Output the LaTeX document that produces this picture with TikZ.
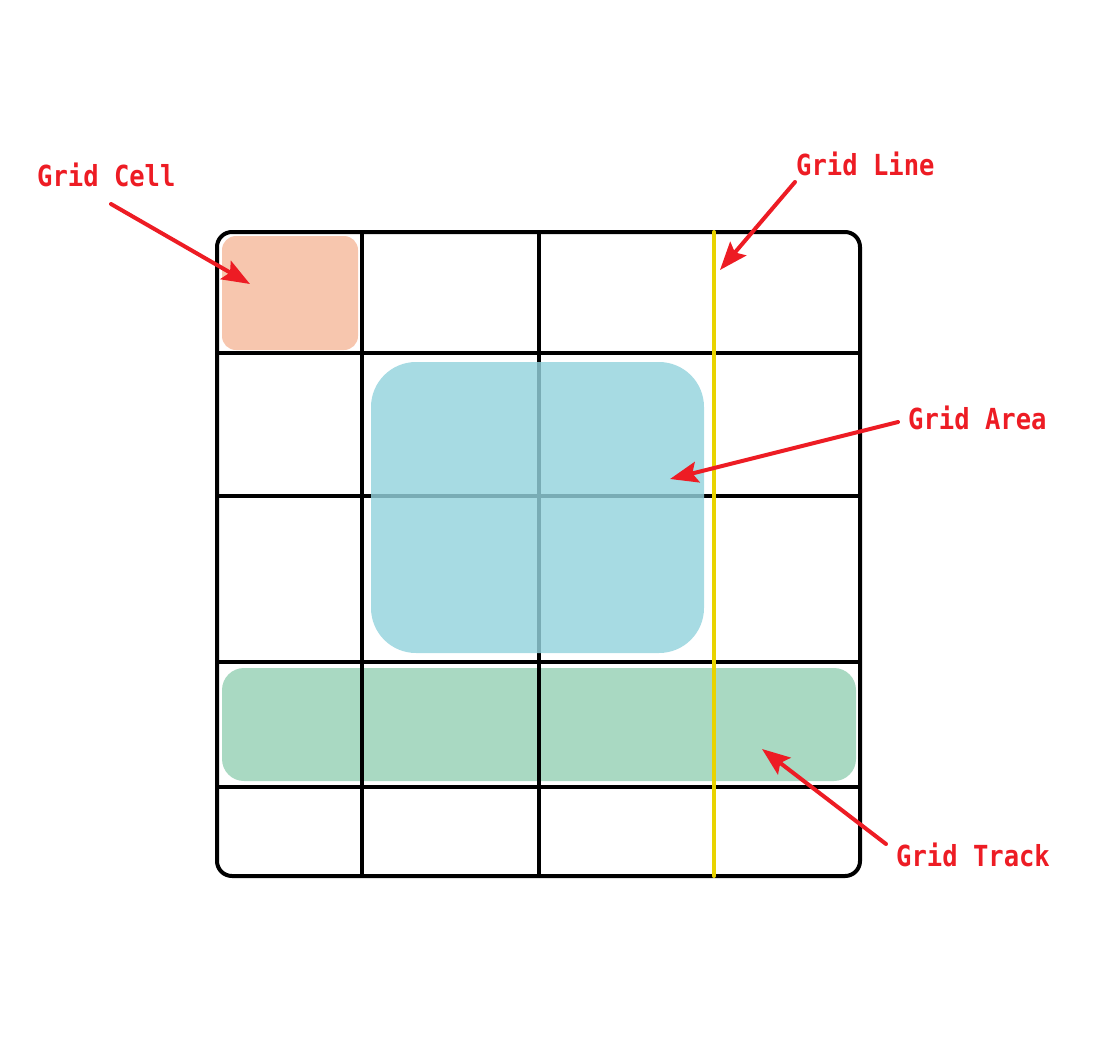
\documentclass[tikz,border=0pt]{standalone}
\usepackage{fontspec}
\usetikzlibrary{arrows.meta}
\newfontfamily\labelfont{DejaVu Sans Mono}[FakeStretch=0.88]
\definecolor{cellpink}{RGB}{247,198,174}
\definecolor{areablue}{RGB}{148,211,221}
\definecolor{trackgreen}{RGB}{169,217,194}
\definecolor{lineyellow}{RGB}{232,211,0}
\definecolor{pointred}{RGB}{237,28,36}
\tikzset{
	gridline/.style={line width=4pt,black},
	tag/.style={inner sep=0pt,anchor=west,text=pointred,font=\labelfont\bfseries\fontsize{29}{29}\selectfont},
	pointer/.style={pointred,line width=4pt,-{Stealth[length=28pt,width=21pt,inset=5pt]}}
}
\begin{document}
\begin{tikzpicture}[x=1pt,y=-1pt,line cap=round,line join=round]
	\useasboundingbox (0,0) rectangle (1099,1060);
	% filled regions under the grid
	\fill[trackgreen,rounded corners=22pt] (222,668) rectangle (856,781);
	\fill[cellpink,rounded corners=14pt] (222,236) rectangle (358,350);
	% grid
	\foreach \x in {362,539}
		\draw[gridline,line cap=butt] (\x,232) -- (\x,876);
	\foreach \y in {353,496,662,787}
		\draw[gridline,line cap=butt] (217,\y) -- (860,\y);
	\draw[gridline,rounded corners=15pt] (217,232) rectangle (860,876);
	\draw[lineyellow,line width=4pt] (714,232) -- (714,876);
	\fill[areablue,fill opacity=0.82,rounded corners=45pt] (371,362) rectangle (704,653);
	% labels
	\node[tag] (cell) at (37,175) {Grid Cell};
	\node[tag] (line) at (796,164) {Grid Line};
	\node[tag] (area) at (908,418) {Grid Area};
	\node[tag] (track) at (896,855) {Grid Track};
	\coordinate (cellfrom) at (111,204);
	\coordinate (cellto) at (250,284);
	\coordinate (linefrom) at (795,182);
	\coordinate (lineto) at (720,270);
	\coordinate (areafrom) at (898,422);
	\coordinate (areato) at (670,479);
	\coordinate (trackfrom) at (886,844);
	\coordinate (trackto) at (762,749);
	\draw[pointer] (cellfrom) -- (cellto);
	\draw[pointer] (linefrom) -- (lineto);
	\draw[pointer] (areafrom) -- (areato);
	\draw[pointer] (trackfrom) -- (trackto);
\end{tikzpicture}
\end{document}
